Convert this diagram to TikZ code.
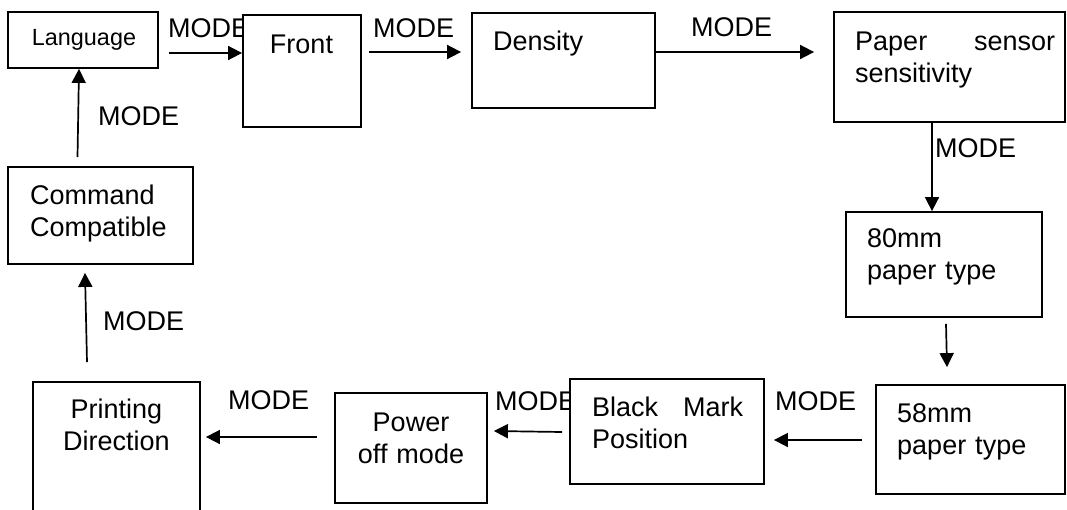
\documentclass[tikz,border=0pt]{standalone}
\usepackage{fontspec}
\setmainfont{Liberation Sans}
\usetikzlibrary{arrows.meta,calc}
\begin{document}
\begin{tikzpicture}[x=1pt,y=-1pt,
  box/.style={draw,line width=1.8pt,fill=white,inner sep=0pt},
  arr/.style={line width=1.7pt,-{Triangle[length=14pt,width=14pt]}},
  lbl/.style={anchor=base west,inner sep=0pt,font=\fontsize{27}{31}\selectfont},
  txt/.style={anchor=base west,inner sep=0pt,font=\fontsize{27}{32}\selectfont,align=left},
  ctxt/.style={anchor=base,inner sep=0pt,font=\fontsize{27}{32}\selectfont,align=center}]
\useasboundingbox (0,0) rectangle (1067,509);
\clip (0,0) rectangle (1067,509);

% MODE labels (drawn first so boxes cover overlaps)
\node[lbl] (m1) at (168,37) {MODE};
\node[lbl] (m2) at (373,37) {MODE};
\node[lbl] (m3) at (691,36) {MODE};
\node[lbl] (m4) at (935,157) {MODE};
\node[lbl] (m5) at (98,125) {MODE};
\node[lbl] (m6) at (103,330) {MODE};
\node[lbl] (m7) at (228,409) {MODE};
\node[lbl] (m8) at (495,410) {MODE};
\node[lbl] (m9) at (775,410) {MODE};

% boxes
\node[box,minimum width=150pt,minimum height=56pt] (lang) at (83,40) {};
\node[box,minimum width=118pt,minimum height=112pt] (front) at (302,71) {};
\node[box,minimum width=183pt,minimum height=95pt] (dens) at (563.5,60.5) {};
\node[box,minimum width=231pt,minimum height=110pt] (pss) at (949.5,67) {};
\node[box,minimum width=196pt,minimum height=105pt] (p80) at (944,264.5) {};
\node[box,minimum width=189pt,minimum height=109pt] (p58) at (970.5,439.5) {};
\node[box,minimum width=194pt,minimum height=105pt] (black) at (667,431.5) {};
\node[box,minimum width=152pt,minimum height=110pt] (power) at (411,448) {};
\node[box,minimum width=167pt,minimum height=138pt] (print) at (116.5,451) {};
\node[box,minimum width=185pt,minimum height=97pt] (cmd) at (100.5,215.5) {};

% box texts
\node[anchor=base,inner sep=0pt,font=\fontsize{23.4}{27}\selectfont] (langt) at (84,45) {Language};
\node[ctxt] (frontt) at (301.5,53) {Front};
\node[txt] (denst) at (493,50) {Density};
\node[txt,text width=200pt] (psst) at (855,50) {\makebox[200pt]{Paper\hfill sensor}\\sensitivity};
\node[txt,text width=175pt] (p80t) at (867,247) {80mm\\paper type};
\node[txt,text width=165pt] (p58t) at (897,422) {58mm\\paper type};
\node[txt,text width=151pt] (blackt) at (592,416) {\makebox[151pt]{Black\hfill Mark}\\Position};
\node[ctxt,text width=150pt] (powert) at (411,431) {Power\\off mode};
\node[ctxt,text width=160pt] (printt) at (116.5,418) {Printing\\Direction};
\node[txt,text width=170pt] (cmdt) at (30,204) {Command\\Compatible};

% connectors
\draw[arr] ($(lang.east)+(10,13)$) -- ($(front.west)+(0,-18)$);
\draw[arr] ($(front.east)+(7,-19)$) -- ($(dens.west)+(-10,-8.5)$);
\draw[arr] ($(dens.east)+(0,-8.5)$) -- ($(pss.west)+(-19,-15)$);
\draw[arr] ($(pss.south)+(-17.5,0)$) -- ($(p80.north)+(-12,0)$);
\draw[arr] ($(p80.south)+(2,6)$) -- ($(p58.north)+(-23.5,-17)$);
\draw[arr] ($(p58.west)+(-13,0.5)$) -- ($(black.east)+(9,8.5)$);
\draw[arr] ($(black.west)+(-7,0.5)$) -- ($(power.east)+(6,-17)$);
\draw[arr] ($(power.west)+(-17,-11)$) -- ($(print.east)+(5,-14)$);
\draw[arr] ($(print.north)+(-29.5,-19)$) -- ($(cmd.south)+(-15.5,8)$);
\draw[arr] ($(cmd.north)+(-23,-9)$) -- ($(lang.south)+(-4,0)$);
\end{tikzpicture}
\end{document}
